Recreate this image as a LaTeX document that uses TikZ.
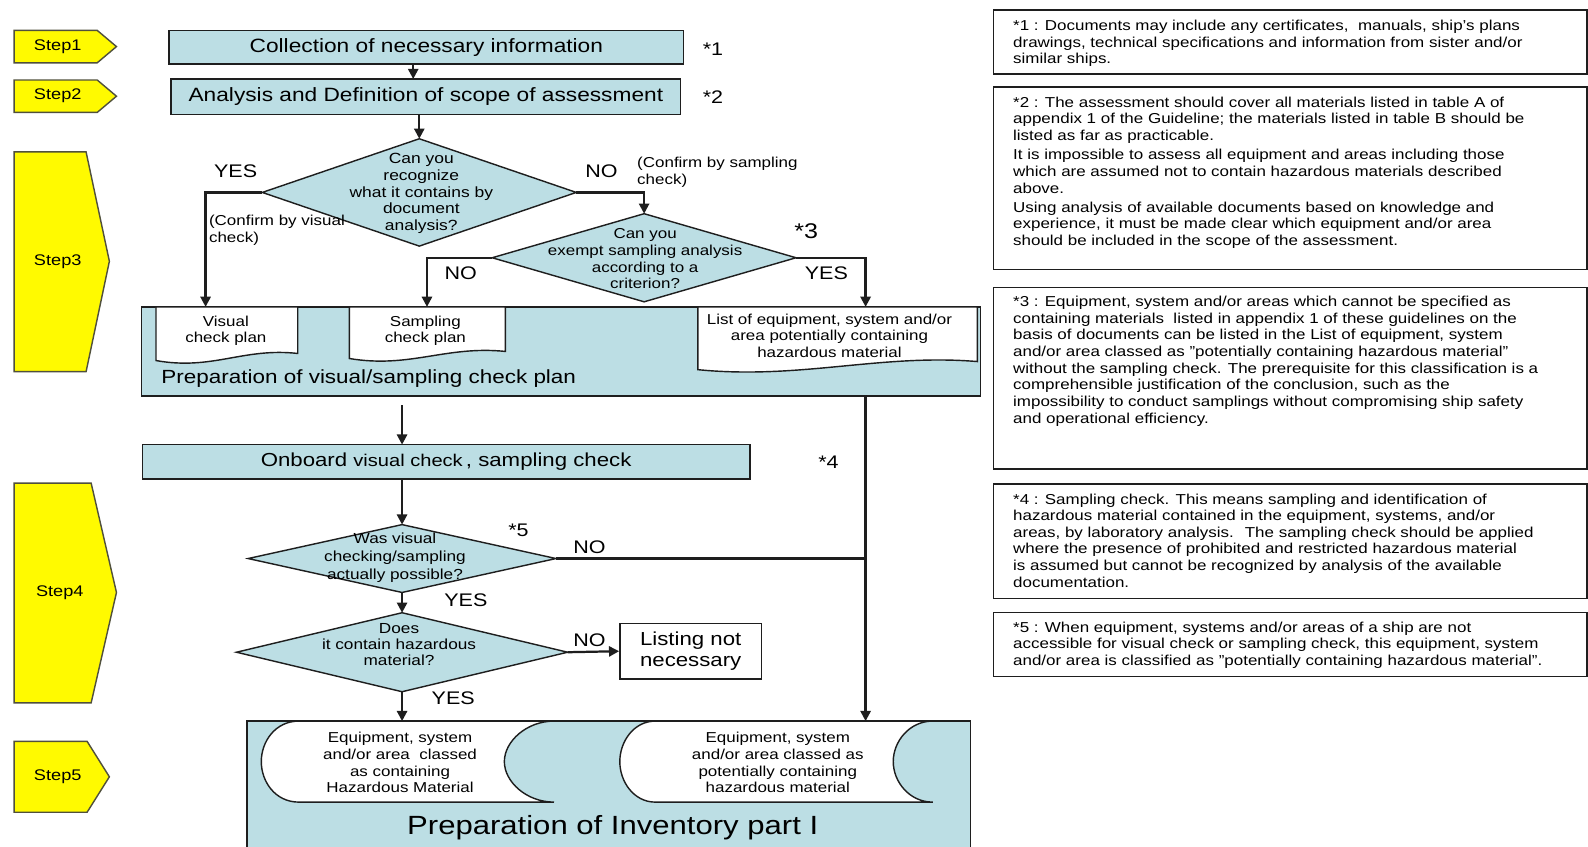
\documentclass[tikz,border=0pt]{standalone}
\usepackage{fontspec}
\setmainfont{Liberation Sans}[FakeStretch=1.18]
\usetikzlibrary{shapes.geometric,arrows.meta}
\definecolor{tealf}{RGB}{188,222,228}
\definecolor{yel}{RGB}{255,250,0}
\definecolor{linec}{RGB}{30,30,30}
\definecolor{stepc}{RGB}{80,80,60}
\begin{document}
\begin{tikzpicture}[x=0.5pt,y=-0.5pt,
  box/.style={draw=linec,fill=tealf,line width=0.7pt,inner sep=0pt,outer sep=0pt},
  dia/.style={diamond,draw=linec,fill=tealf,line width=0.7pt,inner sep=0pt,outer sep=0pt},
  stepbox/.style={draw=stepc,fill=yel,line width=0.7pt},
  docshape/.style={draw=linec,fill=white,line width=0.7pt},
  arr/.style={draw=linec,line width=1.1pt,-{Triangle[length=5pt,width=5pt]}},
  ln/.style={draw=linec,line width=1.1pt},
  yn/.style={font=\fontsize{9}{10}\selectfont,inner sep=0pt},
  starlab/.style={font=\fontsize{9}{10}\selectfont,inner sep=0pt},
  smalltxt/.style={font=\fontsize{7.1}{8.2}\selectfont,inner sep=0pt,align=center},
  notetxt/.style={font=\fontsize{7.1}{8.2}\selectfont,inner sep=0pt,align=left,anchor=north west},
  notebox/.style={draw=linec,line width=0.7pt},
  steptext/.style={font=\fontsize{7.6}{9}\selectfont,inner sep=0pt}
]
\fill[white] (0,0) rectangle (1568,836);
\useasboundingbox (0,0) rectangle (1568,836);

% step markers
\draw[stepbox] (14,30) -- (96,30) -- (115,46) -- (96,62) -- (14,62) -- cycle;
\node[steptext] (st1) at (57,46) {Step1};
\draw[stepbox] (14,79) -- (96,79) -- (115,95) -- (96,111) -- (14,111) -- cycle;
\node[steptext] (st2) at (57,95) {Step2};
\draw[stepbox] (14,150) -- (85,150) -- (108,258) -- (85,367) -- (14,367) -- cycle;
\node[steptext] (st3) at (57,258) {Step3};
\draw[stepbox] (14,477) -- (90,477) -- (115,585) -- (90,694) -- (14,694) -- cycle;
\node[steptext] (st4) at (59,585) {Step4};
\draw[stepbox] (14,732) -- (86,732) -- (108,767) -- (86,802) -- (14,802) -- cycle;
\node[steptext] (st5) at (57,767) {Step5};

% top boxes
\node[box,minimum width=254pt,minimum height=16.5pt,font=\fontsize{9.5}{11}\selectfont] (b1) at (421,46.5) {Collection of necessary information};
\node[box,minimum width=251.5pt,minimum height=17.5pt,font=\fontsize{9.5}{11}\selectfont] (b2) at (420.5,95.5) {Analysis and Definition of scope of assessment};
\node[starlab] (s1) at (704,49) {*1};
\node[starlab] (s2) at (704,95.5) {*2};

% diamond 1
\node[dia,minimum width=155pt,minimum height=53pt] (d1) at (414,190) {};
\node[smalltxt,font=\fontsize{7.3}{8.2}\selectfont] (d1t) at (416,191) {Can you\\recognize\\what it contains by\\document\\analysis?};
\node[yn] (y1) at (232.7,169.5) {YES};
\node[yn] (n1) at (594,169.5) {NO};
\node[notetxt] (cs) at (628.8,154.6) {(Confirm by sampling\\check)};
\node[notetxt] (cv) at (206,212.2) {(Confirm by visual\\check)};

% diamond 2
\node[dia,minimum width=150pt,minimum height=43.5pt] (d2) at (636,254.5) {};
\node[smalltxt,font=\fontsize{7.1}{8.3}\selectfont] (d2t) at (637,255.5) {Can you\\exempt sampling analysis\\according to a\\criterion?};
\node[starlab,font=\fontsize{10.5}{12}\selectfont] (s3) at (796,228) {*3};
\node[yn] (n2) at (455,270) {NO};
\node[yn] (y2) at (816,270) {YES};

% preparation box with documents
\node[box,minimum width=414pt,minimum height=44pt] (prep) at (554,347) {};
\draw[docshape] (154,303) -- (294,303) -- (294,349) .. controls (240,343) and (210,366) .. (154,356) -- cycle;
\draw[docshape] (345,303) -- (499,303) -- (499,347) .. controls (440,341) and (405,364) .. (345,354) -- cycle;
\draw[docshape] (689,303) -- (965,303) -- (965,357) .. controls (870,349) and (790,375) .. (689,365) -- cycle;
\node[smalltxt,font=\fontsize{7.1}{7.9}\selectfont] (vist) at (223,327) {Visual\\check plan};
\node[smalltxt,font=\fontsize{7.1}{7.9}\selectfont] (sampt) at (420,327) {Sampling\\check plan};
\node[smalltxt] (listt) at (819,331.5) {List of equipment, system and/or\\area potentially containing\\hazardous material};
\node[anchor=west,inner sep=0pt,font=\fontsize{9.4}{11}\selectfont] (prept) at (159,374) {Preparation of visual/sampling check plan};

% onboard check
\node[box,minimum width=300pt,minimum height=17pt,font=\fontsize{9.3}{11}\selectfont] (ob) at (440.5,456) {Onboard {\fontsize{8.4}{10}\selectfont visual check}\,, sampling check};
\node[starlab] (s4) at (818,456) {*4};

% diamond 3
\node[dia,minimum width=152pt,minimum height=33.5pt] (d3) at (397,551.5) {};
\node[smalltxt,font=\fontsize{7.2}{9}\selectfont] (d3t) at (390,550.5) {Was visual\\checking/sampling\\actually possible?};
\node[starlab] (s5) at (512,524) {*5};
\node[yn] (n3) at (582,540) {NO};
\node[yn] (y3) at (460,592.4) {YES};

% diamond 4
\node[dia,minimum width=163.5pt,minimum height=39pt] (d4) at (397,644) {};
\node[smalltxt,font=\fontsize{7.2}{8.1}\selectfont] (d4t) at (394,636.5) {Does\\it contain hazardous\\material?};
\node[yn] (n4) at (582,632) {NO};
\node[yn] (y4) at (447.5,689.5) {YES};
\node[draw=linec,fill=white,line width=0.7pt,minimum width=70pt,minimum height=27.5pt,inner sep=0pt,align=center,font=\fontsize{9.3}{10}\selectfont] (lst) at (682,643) {Listing not\\necessary};

% inventory box
\node[box,minimum width=357pt,minimum height=64pt] (inv) at (601,776) {};
\draw[docshape] (295,712) -- (547,712) .. controls (520,712) and (498,732) .. (498,752) .. controls (498,772) and (520,792) .. (547,792) -- (295,792) .. controls (272,792) and (258,772) .. (258,752) .. controls (258,732) and (272,712) .. (295,712) -- cycle;
\draw[docshape] (647,712) -- (921,712) .. controls (898,712) and (882,732) .. (882,752) .. controls (882,772) and (898,792) .. (921,792) -- (647,792) .. controls (626,792) and (612,772) .. (612,752) .. controls (612,732) and (626,712) .. (647,712) -- cycle;
\node[smalltxt] (e1t) at (395,753) {Equipment, system\\and/or area \ classed\\as containing\\Hazardous Material};
\node[smalltxt] (e2t) at (768,753) {Equipment, system\\and/or area classed as\\potentially containing\\hazardous material};
\node[inner sep=0pt,font=\fontsize{13}{15}\selectfont] (invt) at (605,817) {Preparation of Inventory part I};

% connectors
\coordinate (x408) at (408,0);
\coordinate (vis) at (203,303);
\coordinate (samp) at (421.6,303);
\coordinate (lstin) at (854.7,303);
\coordinate (pb) at (397,400);
\draw[arr] (x408 |- b1.south) -- (x408 |- b2.north);
\draw[arr] (d1.north |- b2.south) -- (d1.north);
\draw[arr] (d1.west) -| (vis);
\draw[arr] (d1.east) -| (d2.north);
\draw[arr] (d2.west) -| (samp);
\draw[arr] (d2.east) -| (lstin);
\draw[arr] (pb) -- (pb |- ob.north);
\draw[arr] (lstin |- prep.south) -- (lstin |- inv.north);
\draw[arr] (d3.north |- ob.south) -- (d3.north);
\draw[ln] (d3.east) -- (d3.east -| lstin);
\draw[arr] (d3.south) -- (d4.north);
\draw[arr] (d4.east) -- (lst.west);
\draw[arr] (d4.south) -- (d4.south |- inv.north);

% notes
\draw[notebox] (981,10) rectangle (1567,73);
\node[notetxt] (t1) at (1000,19.6) {*1 : Documents may include any certificates,\ \ manuals, ship's plans\\drawings, technical specifications and information from sister and/or\\similar ships.};
\draw[notebox] (981,86) rectangle (1567,266);
\node[notetxt] (t2) at (1000,95.3) {*2 : The assessment should cover all materials listed in table A of\\appendix 1 of the Guideline; the materials listed in table B should be\\listed as far as practicable.\\[1.3pt]It is impossible to assess all equipment and areas including those\\which are assumed not to contain hazardous materials described\\above.\\[1.3pt]Using analysis of available documents based on knowledge and\\experience, it must be made clear which equipment and/or area\\should be included in the scope of the assessment.};
\draw[notebox] (981,284) rectangle (1567,463);
\node[notetxt] (t3) at (1000,292.2) {*3 : Equipment, system and/or areas which cannot be specified as\\containing materials \ listed in appendix 1 of these guidelines on the\\basis of documents can be listed in the List of equipment, system\\and/or area classed as "potentially containing hazardous material"\\without the sampling check. The prerequisite for this classification is a\\comprehensible justification of the conclusion, such as the\\impossibility to conduct samplings without compromising ship safety\\and operational efficiency.};
\draw[notebox] (981,478) rectangle (1567,591);
\node[notetxt] (t4) at (1000,487) {*4 : Sampling check. This means sampling and identification of\\hazardous material contained in the equipment, systems, and/or\\areas, by laboratory analysis. \ The sampling check should be applied\\where the presence of prohibited and restricted hazardous material\\is assumed but cannot be recognized by analysis of the available\\documentation.};
\draw[notebox] (981,605) rectangle (1567,668);
\node[notetxt] (t5) at (1000,613.7) {*5 : When equipment, systems and/or areas of a ship are not\\accessible for visual check or sampling check, this equipment, system\\and/or area is classified as "potentially containing hazardous material".};
\end{tikzpicture}
\end{document}
